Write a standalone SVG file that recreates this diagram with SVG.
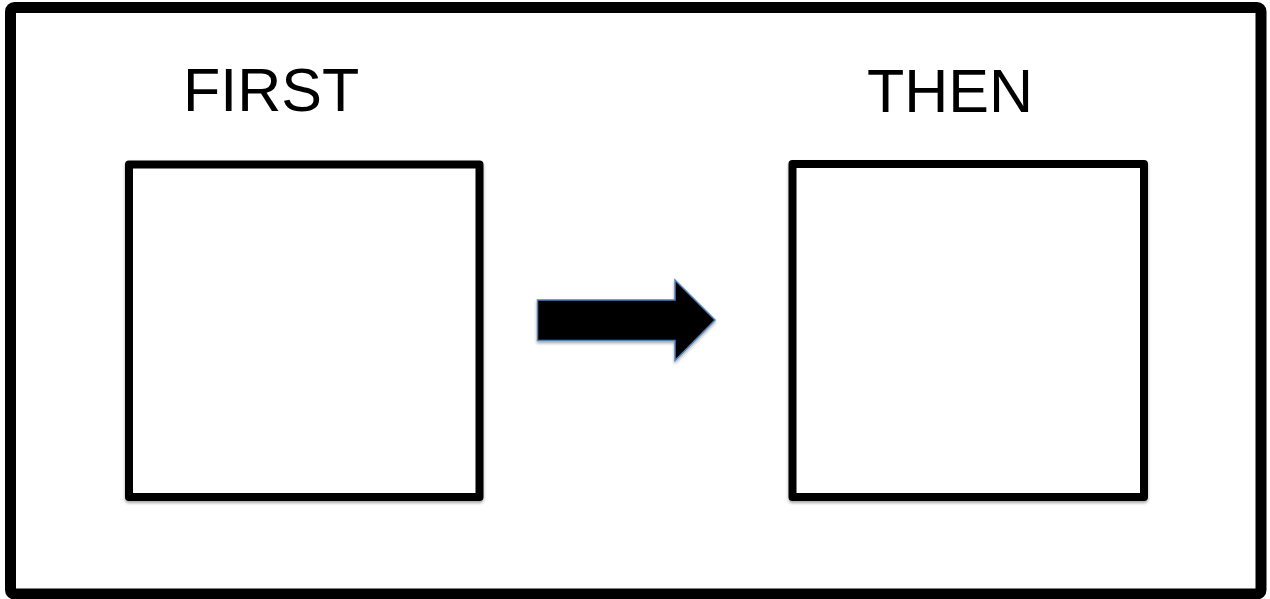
<svg xmlns="http://www.w3.org/2000/svg" width="1270" height="599" viewBox="0 0 1270 599">
<defs>
<style>
.frame{fill:#fff;stroke:#000;stroke-width:11}
.box{fill:#fff;stroke:#000;stroke-width:8;stroke-linejoin:round}
.lbl{font-family:"Liberation Sans",Arial,sans-serif;font-size:61px;fill:#000}
.arrow{fill:#000;stroke:#4f81bd;stroke-width:1.5;stroke-linejoin:miter}
</style>
<filter id="sh" x="-5%" y="-5%" width="110%" height="112%">
<feDropShadow dx="0" dy="2" stdDeviation="1.5" flood-color="#000" flood-opacity="0.35"/>
</filter>
</defs>
<rect width="1270" height="599" fill="#fff"/>
<g id="frame"><rect class="frame" x="10.5" y="7.5" width="1250.5" height="586.5" rx="4"/></g>
<g id="first">
<text class="lbl" x="183" y="111">FIRST</text>
<rect class="box" x="129" y="164.5" width="350.5" height="332.5" filter="url(#sh)"/>
</g>
<g id="then">
<text class="lbl" x="867" y="111.5">THEN</text>
<rect class="box" x="792.5" y="164" width="351.5" height="333" filter="url(#sh)"/>
</g>
<g id="connectors">
<path class="arrow" filter="url(#sh)" d="M537.5,300 L675,300 L675,280 L715,320 L675,360.5 L675,340.5 L537.5,340.5 Z"/>
</g>
</svg>
